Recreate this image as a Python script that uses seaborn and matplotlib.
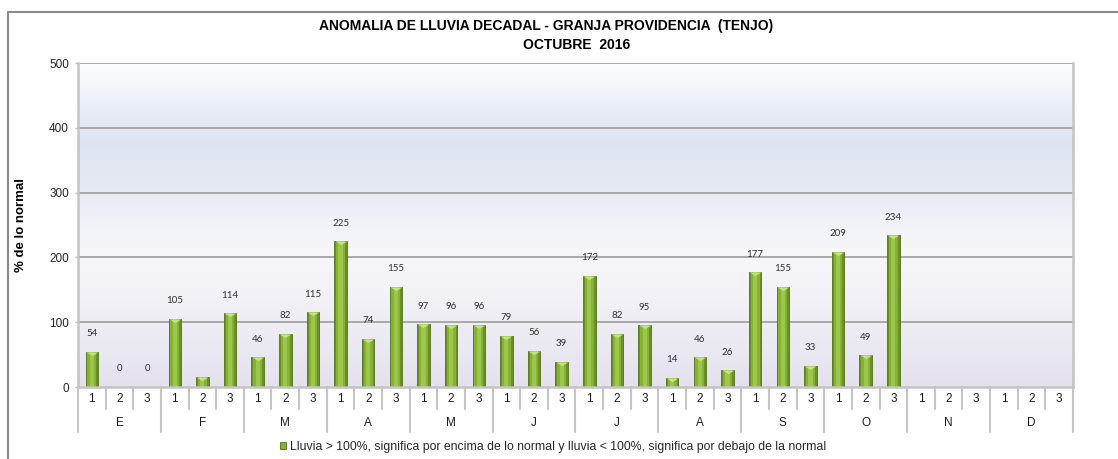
import numpy as np
import pandas as pd
import matplotlib
matplotlib.use("Agg")
import matplotlib.pyplot as plt
import seaborn as sns
from matplotlib.colors import LinearSegmentedColormap
from matplotlib.lines import Line2D
from matplotlib.patches import Patch

# ---------------- data ----------------
meses = ["E", "F", "M", "A", "M", "J", "J", "A", "S", "O", "N", "D"]
decadas = ["1", "2", "3"]
valores = [54, 0, 0,
           105, 16, 114,
           46, 82, 115,
           225, 74, 155,
           97, 96, 96,
           79, 56, 39,
           172, 82, 95,
           14, 46, 26,
           177, 155, 33,
           209, 49, 234,
           np.nan, np.nan, np.nan,
           np.nan, np.nan, np.nan]
etiquetas = ["54", "0", "0",
             "105", "", "114",
             "46", "82", "115",
             "225", "74", "155",
             "97", "96", "96",
             "79", "56", "39",
             "172", "82", "95",
             "14", "46", "26",
             "177", "155", "33",
             "209", "49", "234",
             "", "", "",
             "", "", ""]
titulo1 = "ANOMALIA DE LLUVIA DECADAL - GRANJA PROVIDENCIA  (TENJO)"
titulo2 = "OCTUBRE  2016"
ylabel = "% de lo normal"
leyenda = "Lluvia > 100%, significa por encima de lo normal y lluvia < 100%, significa por debajo de la normal"
yticks = [0, 100, 200, 300, 400, 500]

claves = [f"{m}{i}-{d}" for i, m in enumerate(meses) for d in decadas]
df = pd.DataFrame({"clave": claves, "valor": valores})

# ---------------- figure ----------------
sns.set_theme(style="white")
plt.rcParams["font.family"] = ["Liberation Sans", "DejaVu Sans"]

W, H = 1118, 459
fig = plt.figure(figsize=(W / 100, H / 100), dpi=100)
L, R, T, B = 78, 1073, 63, 387
ax = fig.add_axes([L / W, 1 - B / H, (R - L) / W, (B - T) / H])

# background gradient
stops = [(0.0, "#E4E1ED"), (0.2, "#EEEDF4"), (0.42, "#F8F8FB"),
         (0.52, "#EFF1F7"), (0.62, "#E5E9F3"), (0.76, "#DEE4F1"),
         (0.88, "#EBEFF7"), (1.0, "#FEFEFF")]
cmap = LinearSegmentedColormap.from_list("bg", stops)
grad = np.linspace(0, 1, 256).reshape(-1, 1)
ax.imshow(grad, cmap=cmap, aspect="auto", extent=[0, 1, 0, 1],
          origin="lower", transform=ax.transAxes, zorder=0)

# bars (layered to mimic cylinder shading)
orden = claves
sns.barplot(data=df, x="clave", y="valor", order=orden, color="#6A8F25",
            saturation=1, width=0.45, ax=ax, zorder=3, errorbar=None,
            edgecolor="#52711A", linewidth=0.6)
sns.barplot(data=df, x="clave", y="valor", order=orden, color="#86B136",
            saturation=1, width=0.32, ax=ax, zorder=4, errorbar=None,
            linewidth=0)
sns.barplot(data=df, x="clave", y="valor", order=orden, color="#9CC74A",
            saturation=1, width=0.15, ax=ax, zorder=5, errorbar=None,
            linewidth=0)

xs = np.arange(len(claves))
vals = np.array(valores, dtype=float)
mask = np.isfinite(vals) & (vals > 0)
tri = [(-1, 0), (1, 0), (0, -0.6), (-1, 0)]
ax.scatter(xs[mask], vals[mask], marker=tri, s=72, color="#C2E480",
           linewidths=0, zorder=6)

for x, v, lab in zip(xs, vals, etiquetas):
    if lab and np.isfinite(v):
        ax.annotate(lab, (x, v), xytext=(0, 13), textcoords="offset points",
                    ha="center", va="center", fontsize=7, color="#303030",
                    family=["Lato", "DejaVu Sans"], zorder=7)

ax.set_xlim(-0.5, len(claves) - 0.5)
ax.set_ylim(0, 500)
ax.set_yticks(yticks)
ax.set_yticklabels([str(t) for t in yticks], fontsize=8.5, color="#262626")
ax.tick_params(axis="y", length=2.5, width=1, color="#BFBFBF", pad=4, left=True)
ax.set_xticks([])
ax.set_xlabel("")
ax.set_ylabel("")
ax.grid(False)
for t in yticks[1:]:
    ax.axhline(t, color="#A3A3A3", lw=1.3, zorder=1)

for side in ["top"]:
    ax.spines[side].set_visible(False)
for side in ["left", "bottom", "right"]:
    ax.spines[side].set_color("#C4C4C4")
    ax.spines[side].set_linewidth(1.8)
    ax.spines[side].set_zorder(8)

# multi-level category axis
ph = B - T
xt = ax.get_xaxis_transform()
for k in range(len(claves) + 1):
    largo = 45 if k % 3 == 0 else 22
    ax.plot([k - 0.5, k - 0.5], [0, -largo / ph], transform=xt,
            color="#C4C4C4", lw=1.5, clip_on=False, zorder=8)
for i, c in enumerate(claves):
    ax.text(i, -12 / ph, decadas[i % 3], transform=xt, ha="center",
            va="center", fontsize=8.5, color="#1A1A1A")
for j, m in enumerate(meses):
    ax.text(3 * j + 1, -36 / ph, m, transform=xt, ha="center",
            va="center", fontsize=8.5, color="#1A1A1A")

# y label
ax.text((21 - L) / (R - L), 0.5, ylabel, transform=ax.transAxes,
        rotation=90, ha="center", va="center", fontsize=9.5,
        fontweight="bold", color="#000000")

# titles
fig.text(546 / W, 1 - 26 / H, titulo1, ha="center", va="center",
         fontsize=10, fontweight="bold", color="#000000")
fig.text(577 / W, 1 - 44.7 / H, titulo2, ha="center", va="center",
         fontsize=10, fontweight="bold", color="#000000")

# legend
handle = Patch(facecolor="#86B136", edgecolor="#52711A", linewidth=0.6)
fig.legend([handle], [leyenda], loc="center", bbox_to_anchor=(553 / W, 1 - 447 / H),
           frameon=False, fontsize=8.8, handlelength=0.55, handleheight=0.55,
           handletextpad=0.3, borderpad=0)

# outer chart border
fig.add_artist(Line2D([8 / W, 8 / W], [0, 1 - 12 / H], transform=fig.transFigure,
                      color="#8A8A8A", lw=1.5))
fig.add_artist(Line2D([8 / W, 1], [1 - 12 / H, 1 - 12 / H], transform=fig.transFigure,
                      color="#8A8A8A", lw=1.5))

fig.savefig("out.png", dpi=100)
